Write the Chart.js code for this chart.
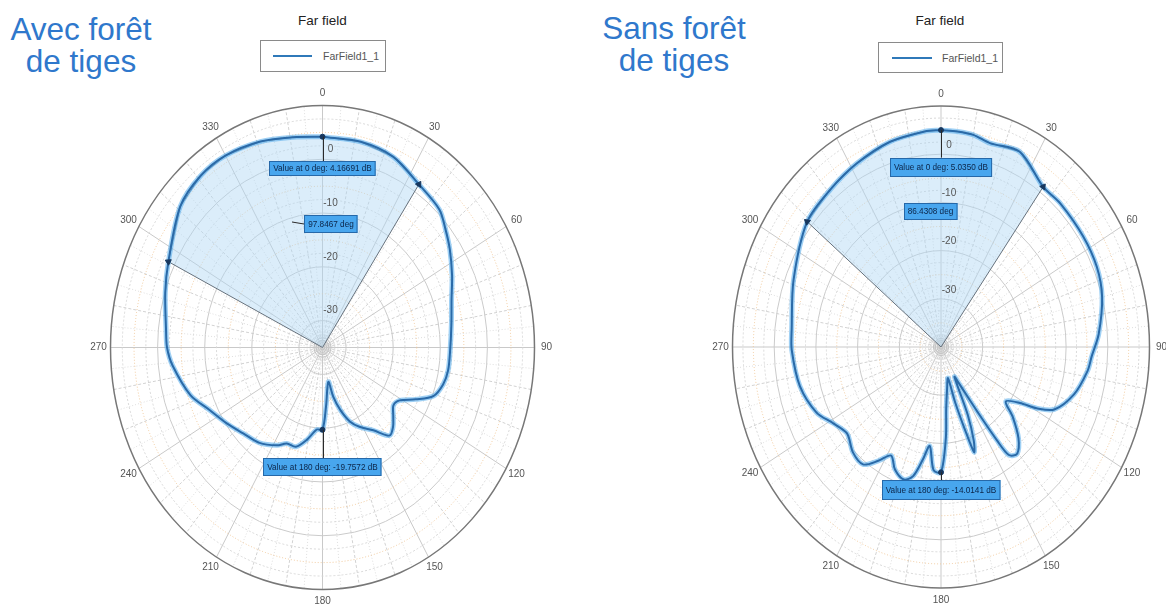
<!DOCTYPE html>
<html>
<head>
<meta charset="utf-8">
<script src="https://cdn.jsdelivr.net/npm/chart.js@4.4.0/dist/chart.umd.min.js"></script>
<style>
  body { margin:0; background:#fff; width:1166px; height:610px; overflow:hidden; position:relative;
         font-family:"Liberation Sans", Arial, sans-serif; }
  .big { position:absolute; color:#2f78cc; font-size:31.5px; line-height:32.5px; text-align:center; width:200px; }
  .ff { position:absolute; font-size:13.5px; line-height:16px; color:#222; width:120px; text-align:center; }
  .leg { position:absolute; border:1px solid #8a8a8a; box-sizing:border-box; }
  .leg .ln { position:absolute; height:2px; background:#2f79b9; }
  .leg .tx { position:absolute; font-size:10.5px; color:#555; line-height:12px; }
  canvas { position:absolute; top:0; }
</style>
</head>
<body>

<div class="big" style="left:-19px;top:12.5px">Avec forêt<br>de tiges</div>
<div class="big" style="left:574px;top:11.5px">Sans forêt<br>de tiges</div>

<div class="ff" style="left:262.5px;top:12.5px">Far field</div>
<div class="ff" style="left:880px;top:12.5px">Far field</div>

<div class="leg" style="left:260px;top:40px;width:126px;height:32px">
  <div class="ln" style="left:12px;top:14px;width:39px"></div>
  <div class="tx" style="left:62px;top:9px">FarField1_1</div>
</div>
<div class="leg" style="left:878px;top:42px;width:125px;height:31px">
  <div class="ln" style="left:13px;top:14px;width:40px"></div>
  <div class="tx" style="left:63px;top:9px">FarField1_1</div>
</div>

<canvas id="avec" width="583" height="610" style="left:0"></canvas>
<canvas id="sans" width="583" height="610" style="left:583px"></canvas>

<script>
// ---- data ----
const angleTicks = [0, 30, 60, 90, 120, 150, 180, 210, 240, 270, 300, 330];
const dbTicks = [0, -10, -20, -30];

// "Avec forêt de tiges" : angle (deg) / gain (dB)
const avecAngles = [0, 12, 23, 34, 44, 50, 56, 64, 72, 81, 91, 99, 105, 111, 116, 121, 125.5, 130, 134.5, 139,
  145, 152, 157, 162, 166, 169, 176, 180, 184.5, 191, 197, 203, 208, 217, 226.5, 235, 244, 252.5, 264, 270,
  276, 287, 296, 311, 321, 330, 341, 351];
const avecDb = [4.2, 4.1, 3.5, 1.6, 0.7, -0.9, -2.4, -4.4, -6.2, -7.3, -7.9, -8.0, -8.5, -9.8, -13, -15.9, -16.5, -15.4, -14, -13.3,
  -16.2, -18.3, -20, -22.8, -25.6, -28.5, -24.1, -19.7, -19.7, -17.5, -15.7, -15.6, -14.4, -12.8, -11.8, -10.3, -8.4, -5.6, -3.0, -2.0,
  -1.6, -0.1, 1.4, 5.0, 6.1, 6.2, 5.5, 4.6];
const avecBeam = [296, 34];
const avecTexts = ['Value at 0 deg: 4.16691 dB', '97.8467 deg', 'Value at 180 deg: -19.7572 dB'];

// "Sans forêt de tiges"
const sansAngles = [0, 5, 10, 15.5, 25, 36.4, 44, 56, 66, 75, 86, 93, 98, 107, 115.5, 119, 121.5, 126, 130, 135.5,
  140.5, 144, 145.3, 147, 150.5, 152.5, 155.5, 158, 160, 161.5, 163.5, 165.5, 170, 174.5, 176.5, 180,
  184, 187.5, 190.5, 194, 198, 203.5, 208, 212.5, 217.5, 224, 231.5, 238.5, 245.5, 256.5, 269, 276,
  291.5, 309, 321, 332, 344, 355];
const sansDb = [5.0, 4.9, 4.7, 3.9, 4.7, 1.3, 1.3, 1.1, 0.9, 0.0, -2.1, -3.8, -4.5, -6.6, -9.9, -13.8, -17.8, -20.8, -17.6, -13.5,
  -11.3, -12.3, -16.5, -24, -31.5, -33, -24.5, -19, -16.8, -22, -28, -33.3, -31.5, -27, -21, -14.0,
  -14.4, -19.3, -16.3, -12.4, -11.1, -12.3, -14.5, -12, -9.3, -9.6, -11.2, -9.7, -7.2, -5.2, -4.2, -4.0,
  -2.0, 1.3, 2.1, 3.1, 4.3, 4.9];
const sansBeam = [309, 36.4];
const sansTexts = ['Value at 0 deg: 5.0350 dB', '86.4308 deg', 'Value at 180 deg: -14.0141 dB'];

// ---- helpers ----
function toXY(deg, db, min, max) {
  const n = (db - min) / (max - min);
  const r = deg * Math.PI / 180;
  return { x: n * Math.sin(r), y: n * Math.cos(r) };
}

function annoBox(ctx, text, x, y, h) {
  ctx.font = '8.2px "Liberation Sans", Arial, sans-serif';
  const w = ctx.measureText(text).width + 8;
  const l = Math.round(x - w / 2), t = Math.round(y - h / 2);
  ctx.fillStyle = '#48a6ee';
  ctx.fillRect(l, t, w, h);
  ctx.strokeStyle = '#2668a8';
  ctx.lineWidth = 1;
  ctx.setLineDash([]);
  ctx.strokeRect(l + 0.5, t + 0.5, w - 1, h - 1);
  ctx.fillStyle = '#0b2447';
  ctx.textAlign = 'center';
  ctx.textBaseline = 'middle';
  ctx.fillText(text, x, y + 0.5);
  return { left: l, top: t, w: w, h: h };
}

function polarPlugin(cfg) {
  return {
    id: 'polar_' + cfg.id,
    beforeDatasetsDraw(chart) {
      const ctx = chart.ctx, xs = chart.scales.x, ys = chart.scales.y;
      const cx = xs.getPixelForValue(0), cy = ys.getPixelForValue(0);
      const RX = xs.getPixelForValue(1) - cx, RY = cy - ys.getPixelForValue(1);
      ctx.save();
      // spokes
      for (let a = 0; a < 360; a += 5) {
        const s = Math.sin(a * Math.PI / 180), c = Math.cos(a * Math.PI / 180);
        if (a % 30 === 0) { ctx.strokeStyle = '#c9c9c9'; ctx.setLineDash([]); }
        else if (a % 10 === 0) { ctx.strokeStyle = '#d2d2d2'; ctx.setLineDash([3, 2]); }
        else { ctx.strokeStyle = '#dedede'; ctx.setLineDash([1, 2]); }
        ctx.lineWidth = 1;
        ctx.beginPath();
        ctx.moveTo(cx, cy);
        ctx.lineTo(cx + RX * s, cy - RY * c);
        ctx.stroke();
      }
      // rings
      for (let db = cfg.min + 2.5; db < cfg.max; db += 2.5) {
        const n = (db - cfg.min) / (cfg.max - cfg.min);
        if (db % 10 === 0) { ctx.strokeStyle = '#cbcbcb'; ctx.setLineDash([]); }
        else if (db % 5 === 0) { ctx.strokeStyle = '#f0c89a'; ctx.setLineDash([1, 2]); }
        else { ctx.strokeStyle = '#d8d8d8'; ctx.setLineDash([2, 2]); }
        ctx.beginPath();
        ctx.ellipse(cx, cy, RX * n, RY * n, 0, 0, Math.PI * 2);
        ctx.stroke();
      }
      // dense rings near the centre
      ctx.strokeStyle = '#c4c4c4';
      ctx.setLineDash([]);
      for (let k = 1; k <= 4; k++) {
        const n = k * 0.45 / (cfg.max - cfg.min);
        ctx.beginPath();
        ctx.ellipse(cx, cy, RX * n, RY * n, 0, 0, Math.PI * 2);
        ctx.stroke();
      }
      // outer ellipse
      ctx.strokeStyle = '#777';
      ctx.lineWidth = 1.5;
      ctx.beginPath();
      ctx.ellipse(cx, cy, RX, RY, 0, 0, Math.PI * 2);
      ctx.stroke();
      ctx.restore();
    },
    afterDatasetsDraw(chart) {
      const ctx = chart.ctx, xs = chart.scales.x, ys = chart.scales.y;
      const cx = xs.getPixelForValue(0), cy = ys.getPixelForValue(0);
      const RX = xs.getPixelForValue(1) - cx, RY = cy - ys.getPixelForValue(1);
      const px = p => ({ x: xs.getPixelForValue(p.x), y: ys.getPixelForValue(p.y) });
      ctx.save();
      // angle labels
      ctx.font = '10px "Liberation Sans", Arial, sans-serif';
      ctx.fillStyle = '#555';
      ctx.textAlign = 'center';
      ctx.textBaseline = 'middle';
      angleTicks.forEach(a => {
        const s = Math.sin(a * Math.PI / 180), c = Math.cos(a * Math.PI / 180);
        ctx.fillText(String(a), cx + (RX + 12) * s, cy - (RY + 12) * c);
      });
      // dB labels
      dbTicks.forEach(t => {
        const n = (t - cfg.min) / (cfg.max - cfg.min);
        ctx.fillText(String(t), cx + 8, cy - RY * n - cfg.tickLift);
      });
      // value markers + annotation boxes
      const i0 = cfg.angles.indexOf(0), i180 = cfg.angles.indexOf(180);
      const p0 = px(toXY(0, cfg.db[i0], cfg.min, cfg.max));
      const p180 = px(toXY(180, cfg.db[i180], cfg.min, cfg.max));
      ctx.strokeStyle = '#2a2a2a';
      ctx.lineWidth = 1;
      const b0 = { x: p0.x, y: p0.y + cfg.off0 };
      const b180 = { x: p180.x, y: p180.y + cfg.off180 };
      ctx.beginPath();
      ctx.moveTo(Math.round(p0.x) + 0.5, p0.y);
      ctx.lineTo(Math.round(p0.x) + 0.5, b0.y - cfg.h[0] / 2);
      ctx.moveTo(Math.round(p180.x) + 0.5, p180.y);
      ctx.lineTo(Math.round(p180.x) + 0.5, b180.y - cfg.h[2] / 2);
      ctx.stroke();
      annoBox(ctx, cfg.texts[0], b0.x, b0.y, cfg.h[0]);
      const bb = annoBox(ctx, cfg.texts[1], cx + cfg.beamLbl[0], cy + cfg.beamLbl[1], cfg.h[1]);
      if (cfg.leader) {
        ctx.strokeStyle = '#2a2a2a';
        ctx.beginPath();
        ctx.moveTo(bb.left - 12, bb.top + bb.h / 2 - 2);
        ctx.lineTo(bb.left, bb.top + bb.h / 2);
        ctx.stroke();
      }
      annoBox(ctx, cfg.texts[2], b180.x, b180.y, cfg.h[2]);
      ctx.restore();
    }
  };
}

function makeChart(cfg) {
  const pts = cfg.angles.map((a, i) => toXY(a, cfg.db[i], cfg.min, cfg.max));
  const closed = pts.concat([pts[0]]);
  const centre = { x: 0, y: 0 };
  // beam sector: centre -> curve from beam start through 0 to beam end -> centre
  const sector = [centre];
  cfg.angles.forEach((a, i) => { if (a >= cfg.beam[0]) sector.push(pts[i]); });
  cfg.angles.forEach((a, i) => { if (a <= cfg.beam[1]) sector.push(pts[i]); });
  sector.push(centre);

  const ib0 = cfg.angles.indexOf(cfg.beam[0]), ib1 = cfg.angles.indexOf(cfg.beam[1]);
  const i0 = cfg.angles.indexOf(0), i180 = cfg.angles.indexOf(180);
  const markers = [pts[i0], pts[i180], pts[ib0], pts[ib1]];

  return new Chart(document.getElementById(cfg.id), {
    type: 'scatter',
    data: {
      datasets: [
        { label: 'FarField1_1', data: closed, showLine: true, borderColor: '#2a6aa8', borderWidth: 2,
          pointRadius: 0, tension: 0.3, order: 1 },
        { label: 'halo', data: closed, showLine: true, borderColor: 'rgba(80,170,235,0.55)', borderWidth: 5,
          pointRadius: 0, tension: 0.3, order: 2 },
        { label: 'beam', data: sector, showLine: true, fill: 'shape', backgroundColor: 'rgba(175,215,245,0.45)',
          borderColor: '#66717c', borderWidth: 1, pointRadius: 0, tension: 0, order: 3 },
        { label: 'markers', data: markers, showLine: false, order: 0,
          pointStyle: ['circle', 'circle', 'triangle', 'triangle'],
          rotation: [0, 0, cfg.beam[0], cfg.beam[1]],
          pointRadius: [2.5, 2.5, 3.5, 3.5], backgroundColor: '#17375e', borderColor: '#17375e' }
      ]
    },
    options: {
      responsive: false,
      animation: false,
      layout: { padding: cfg.pad },
      scales: {
        x: { type: 'linear', min: -1, max: 1, display: false },
        y: { type: 'linear', min: -1, max: 1, display: false }
      },
      plugins: { legend: { display: false }, tooltip: { enabled: false }, title: { display: false } }
    },
    plugins: [polarPlugin(cfg)]
  });
}

makeChart({
  id: 'avec', angles: avecAngles, db: avecDb, beam: avecBeam, texts: avecTexts,
  min: -35, max: 10, pad: { left: 110.5, right: 48.5, top: 105.5, bottom: 20.5 },
  tickLift: 10, off0: 32, off180: 37.5, beamLbl: [8.5, -123.5], h: [15, 18, 18], leader: true
});
makeChart({
  id: 'sans', angles: sansAngles, db: sansDb, beam: sansBeam, texts: sansTexts,
  min: -40, max: 10, pad: { left: 149.5, right: 16.5, top: 106, bottom: 22 },
  tickLift: 9, off0: 37, off180: 18, beamLbl: [-10.5, -135.3], h: [19, 17, 20], leader: false
});
</script>
</body>
</html>
